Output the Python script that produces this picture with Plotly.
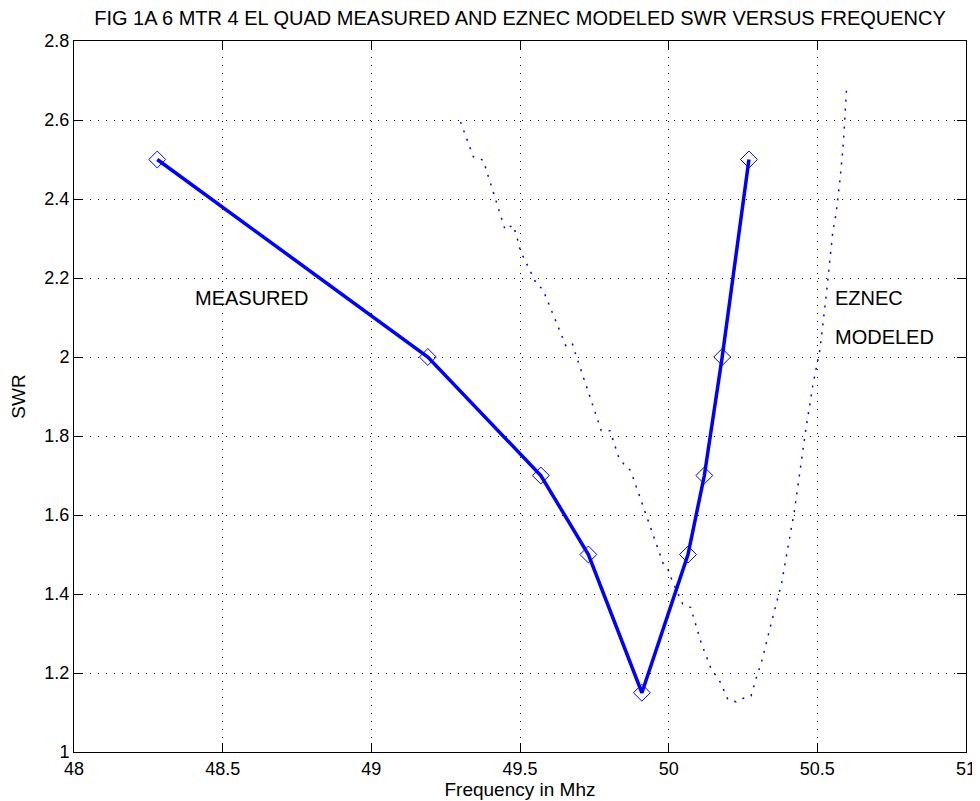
import plotly.graph_objects as go

# Measured SWR
meas_freq = [48.28, 49.19, 49.57, 49.73, 49.91, 50.065, 50.12, 50.18, 50.27]
meas_swr = [2.5, 2.0, 1.7, 1.5, 1.15, 1.5, 1.7, 2.0, 2.5]

# EZNEC modeled SWR
model_freq = [49.300, 49.343, 49.377, 49.386, 49.450, 49.476, 49.487, 49.502, 49.529,
              49.555, 49.577, 49.655, 49.676, 49.685, 49.773, 49.803, 49.832, 49.849,
              49.870, 49.881, 49.982, 50.001, 50.010, 50.047, 50.074, 50.083, 50.109,
              50.142, 50.175, 50.199, 50.227, 50.254, 50.277, 50.294, 50.313, 50.343,
              50.380, 50.423, 50.461, 50.485, 50.509, 50.530, 50.552, 50.563, 50.577,
              50.588, 50.599]
model_swr = [2.595, 2.507, 2.498, 2.475, 2.322, 2.334, 2.311, 2.267, 2.226,
             2.186, 2.171, 2.027, 2.034, 2.012, 1.814, 1.813, 1.746, 1.729,
             1.714, 1.693, 1.476, 1.458, 1.437, 1.375, 1.366, 1.343, 1.277,
             1.212, 1.175, 1.133, 1.127, 1.137, 1.142, 1.186, 1.230, 1.320,
             1.428, 1.611, 1.815, 1.929, 2.020, 2.157, 2.316, 2.363, 2.454,
             2.546, 2.690]

x_ticks = [48, 48.5, 49, 49.5, 50, 50.5, 51]
x_tick_text = ["48", "48.5", "49", "49.5", "50", "50.5", "51"]
y_ticks = [1, 1.2, 1.4, 1.6, 1.8, 2, 2.2, 2.4, 2.6, 2.8]
y_tick_text = ["1", "1.2", "1.4", "1.6", "1.8", "2", "2.2", "2.4", "2.6", "2.8"]

title_text = "FIG 1A 6 MTR 4 EL QUAD MEASURED AND EZNEC MODELED SWR VERSUS FREQUENCY"

font_family = "Liberation Sans, Arial, Helvetica, sans-serif"

fig = go.Figure()
fig.add_trace(go.Scatter(
    x=model_freq, y=model_swr, mode="lines",
    line=dict(color="#0000ff", width=1.5, dash="2px,7px"),
    showlegend=False, hoverinfo="skip"))
fig.add_trace(go.Scatter(
    x=meas_freq, y=meas_swr, mode="lines+markers",
    line=dict(color="#0000ff", width=3.5),
    marker=dict(symbol="diamond-open", size=13, color="#0000ff",
                line=dict(color="#0000ff", width=1)),
    showlegend=False))

fig.add_annotation(x=48.40, y=2.149, text="MEASURED", showarrow=False,
                   xanchor="left", yanchor="middle",
                   font=dict(size=20, color="black", family=font_family))
fig.add_annotation(x=50.552, y=2.15, text="EZNEC", showarrow=False,
                   xanchor="left", yanchor="middle",
                   font=dict(size=20, color="black", family=font_family))
fig.add_annotation(x=50.552, y=2.05, text="MODELED", showarrow=False,
                   xanchor="left", yanchor="middle",
                   font=dict(size=20, color="black", family=font_family))

axis_common = dict(
    showline=True, linecolor="black", linewidth=1, mirror="ticks",
    ticks="inside", ticklen=9, tickcolor="black", tickwidth=1,
    showgrid=True, gridcolor="black", gridwidth=1, griddash="1px,7px",
    zeroline=False, tickfont=dict(size=18, color="black", family=font_family),
)

fig.update_xaxes(range=[48, 51], tickvals=x_ticks, ticktext=x_tick_text,
                 title=dict(text="Frequency in Mhz", standoff=1,
                            font=dict(size=19, color="black", family=font_family)),
                 **axis_common)
fig.update_yaxes(range=[1, 2.8], tickvals=y_ticks, ticktext=y_tick_text,
                 title=dict(text="SWR", standoff=14,
                            font=dict(size=19, color="black", family=font_family)),
                 **axis_common)

fig.update_layout(
    width=972, height=793,
    margin=dict(l=66, r=14, t=33, b=49, autoexpand=False),
    paper_bgcolor="white", plot_bgcolor="white",
    title=dict(text=title_text, x=(520 - 8) / 972, xanchor="center",
               y=1 - 10 / 793, yanchor="middle",
               font=dict(size=20, color="black", family=font_family)),
    font=dict(family=font_family, color="black"),
)

fig.write_html("out.html")
